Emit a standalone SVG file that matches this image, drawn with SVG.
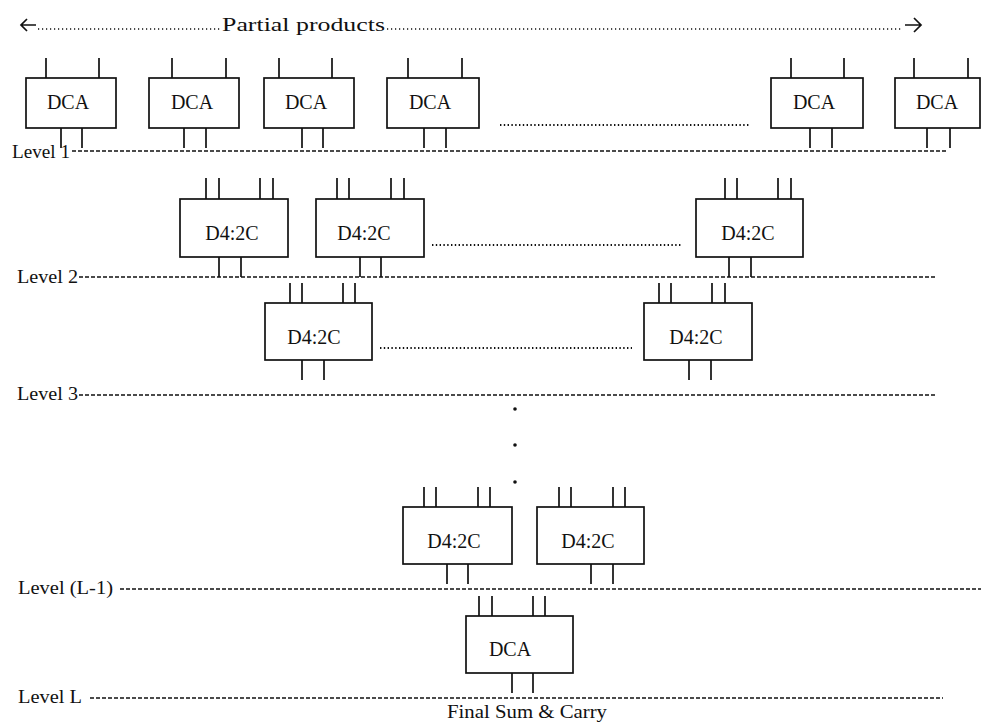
<svg xmlns="http://www.w3.org/2000/svg" width="981" height="725" viewBox="0 0 981 725">
  <style>
    .box { fill: #fff; stroke: #111; stroke-width: 1.7; }
    .pin { stroke: #111; stroke-width: 1.7; fill: none; }
    .lbl { font-family: "Liberation Serif", "Times New Roman", serif; font-size: 20px; fill: #111; text-anchor: middle; }
    .lvl { font-family: "Liberation Serif", "Times New Roman", serif; font-size: 19px; fill: #111; }
    .dash { stroke: #111; stroke-width: 1.4; stroke-dasharray: 4 2; fill: none; }
    .dots { stroke: #111; stroke-width: 1.8; stroke-dasharray: 1.4 2.4; fill: none; }
    .fine { stroke: #111; stroke-width: 1.3; stroke-dasharray: 1.2 2.8; fill: none; }
  </style>

  <!-- header: partial products span -->
  <g id="header">
    <path class="pin" d="M21 25 H36 M27 19 L21 25 L27 31" />
    <line class="fine" x1="38" y1="29" x2="220" y2="29" />
    <text class="lvl" x="222" y="31" font-size="24" textLength="163" lengthAdjust="spacingAndGlyphs">Partial products</text>
    <line class="fine" x1="387" y1="29" x2="903" y2="29" />
    <path class="pin" d="M905 25 H921 M914 18 L921 25 L914 32" />
  </g>

  <!-- level separators -->
  <g id="levels">
    <text class="lvl" x="12" y="158" textLength="58" lengthAdjust="spacingAndGlyphs">Level 1</text>
    <line class="dash" x1="72" y1="151" x2="948" y2="151" />
    <text class="lvl" x="17" y="283" textLength="61" lengthAdjust="spacingAndGlyphs">Level 2</text>
    <line class="dash" x1="79" y1="277" x2="935" y2="277" />
    <text class="lvl" x="17" y="400" textLength="61" lengthAdjust="spacingAndGlyphs">Level 3</text>
    <line class="dash" x1="79" y1="395" x2="935" y2="395" />
    <text class="lvl" x="18" y="594" textLength="95" lengthAdjust="spacingAndGlyphs">Level (L-1)</text>
    <line class="dash" x1="120" y1="589" x2="981" y2="589" />
    <text class="lvl" x="18" y="703" textLength="64" lengthAdjust="spacingAndGlyphs">Level L</text>
    <line class="dash" x1="90" y1="698" x2="943" y2="698" />
  </g>

  <!-- level 1: DCA row -->
  <g id="dca1">
    <path class="pin" d="M46 58 V78 M99 58 V78 M61 128 V148 M82 128 V148" />
    <rect class="box" x="26" y="78" width="90" height="50" />
    <text class="lbl" x="68" y="109">DCA</text>
  </g>
  <g id="dca2">
    <path class="pin" d="M172 58 V78 M226 58 V78 M184 128 V148 M206 128 V148" />
    <rect class="box" x="149" y="78" width="90" height="50" />
    <text class="lbl" x="192" y="109">DCA</text>
  </g>
  <g id="dca3">
    <path class="pin" d="M279 58 V78 M332 58 V78 M302 128 V148 M323 128 V148" />
    <rect class="box" x="264" y="78" width="90" height="50" />
    <text class="lbl" x="306" y="109">DCA</text>
  </g>
  <g id="dca4">
    <path class="pin" d="M408 58 V78 M462 58 V78 M424 128 V148 M446 128 V148" />
    <rect class="box" x="387" y="78" width="92" height="50" />
    <text class="lbl" x="430" y="109">DCA</text>
  </g>
  <g id="dca5">
    <path class="pin" d="M791 58 V78 M844 58 V78 M810 128 V148 M832 128 V148" />
    <rect class="box" x="771" y="78" width="92" height="50" />
    <text class="lbl" x="814" y="109">DCA</text>
  </g>
  <g id="dca6">
    <path class="pin" d="M914 58 V78 M968 58 V78 M927 128 V148 M950 128 V148" />
    <rect class="box" x="895" y="78" width="85" height="50" />
    <text class="lbl" x="937" y="109">DCA</text>
  </g>
  <line class="dots" x1="500" y1="125" x2="750" y2="125" />

  <!-- level 2: compressor row -->
  <g id="c2a">
    <path class="pin" d="M206 178 V199 M219 178 V199 M260 178 V199 M273 178 V199 M219 257 V277 M241 257 V277" />
    <rect class="box" x="180" y="199" width="108" height="58" />
    <text class="lbl" x="232" y="240">D4:2C</text>
  </g>
  <g id="c2b">
    <path class="pin" d="M337 178 V199 M349 178 V199 M391 178 V199 M404 178 V199 M360 257 V277 M381 257 V277" />
    <rect class="box" x="316" y="199" width="108" height="58" />
    <text class="lbl" x="364" y="240">D4:2C</text>
  </g>
  <g id="c2c">
    <path class="pin" d="M725 178 V199 M737 178 V199 M778 178 V199 M791 178 V199 M729 257 V277 M751 257 V277" />
    <rect class="box" x="696" y="199" width="107" height="58" />
    <text class="lbl" x="748" y="240">D4:2C</text>
  </g>
  <line class="dots" x1="432" y1="245" x2="682" y2="245" />

  <!-- level 3: compressor row -->
  <g id="c3a">
    <path class="pin" d="M290 283 V303 M302 283 V303 M343 283 V303 M355 283 V303 M302 360 V380 M324 360 V380" />
    <rect class="box" x="265" y="303" width="107" height="57" />
    <text class="lbl" x="314" y="344">D4:2C</text>
  </g>
  <g id="c3b">
    <path class="pin" d="M659 283 V303 M671 283 V303 M712 283 V303 M725 283 V303 M689 360 V380 M711 360 V380" />
    <rect class="box" x="644" y="303" width="108" height="57" />
    <text class="lbl" x="696" y="344">D4:2C</text>
  </g>
  <line class="dots" x1="380" y1="348" x2="632" y2="348" />

  <!-- vertical ellipsis between levels -->
  <g id="ellipsis" fill="#111">
    <circle cx="515" cy="409" r="1.8" />
    <circle cx="515" cy="445" r="1.8" />
    <circle cx="515" cy="482" r="1.8" />
  </g>

  <!-- level L-1: compressor row -->
  <g id="cLa">
    <path class="pin" d="M424 487 V507 M436 487 V507 M478 487 V507 M490 487 V507 M447 564 V584 M468 564 V584" />
    <rect class="box" x="403" y="507" width="109" height="57" />
    <text class="lbl" x="454" y="548">D4:2C</text>
  </g>
  <g id="cLb">
    <path class="pin" d="M559 487 V507 M571 487 V507 M613 487 V507 M625 487 V507 M591 564 V584 M613 564 V584" />
    <rect class="box" x="537" y="507" width="107" height="57" />
    <text class="lbl" x="588" y="548">D4:2C</text>
  </g>

  <!-- level L: final adder -->
  <g id="dcaFinal">
    <path class="pin" d="M479 596 V616 M492 596 V616 M533 596 V616 M545 596 V616 M512 673 V693 M533 673 V693" />
    <rect class="box" x="466" y="616" width="107" height="57" />
    <text class="lbl" x="510" y="656">DCA</text>
  </g>
  <text class="lvl" x="447" y="718" font-size="18" textLength="160" lengthAdjust="spacingAndGlyphs">Final Sum &amp; Carry</text>
</svg>
